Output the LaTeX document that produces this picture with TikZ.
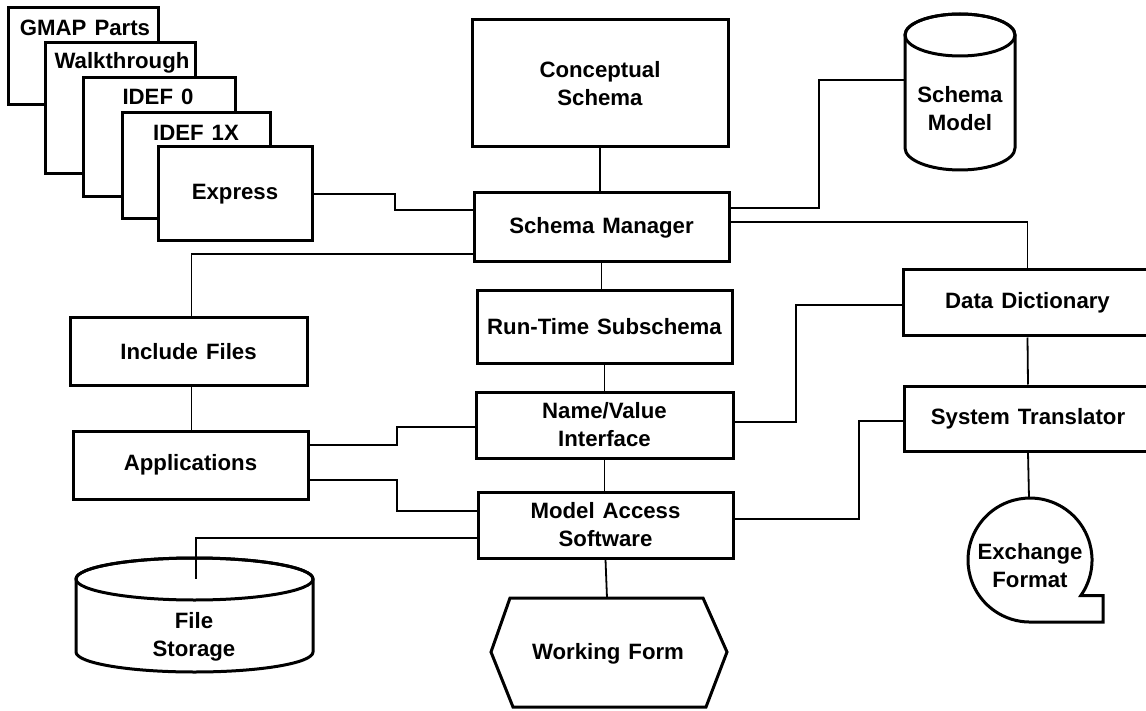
\documentclass[tikz,border=0pt]{standalone}
\usepackage{fontspec}
\setmainfont{Liberation Sans}
\newcommand{\dgfont}{\fontsize{22.2}{28}\selectfont\bfseries\spaceskip=8pt plus 2pt minus 1pt\relax}
\begin{document}
\begin{tikzpicture}[x=1pt,y=-1pt,
  box/.style={draw, line width=3pt, fill=white, rectangle, inner sep=0pt, align=center, font=\dgfont},
  shapeline/.style={draw, line width=3pt, fill=white},
  conn/.style={line width=1.8pt},
  lbl/.style={align=center, font=\dgfont, inner sep=0pt}]
\useasboundingbox[fill=white] (0,0) rectangle (1146,711);

% stacked cards
\node[box, minimum width=150, minimum height=97] (gmap) at (83,56.5) {};
\node[lbl] (gmapt) at (85,28) {GMAP Parts};
\node[box, minimum width=150, minimum height=131] (walk) at (120,108.5) {};
\node[lbl] (walkt) at (122,63) {Walkthrough};
\node[box, minimum width=152, minimum height=119] (idef0) at (159,137.5) {};
\node[lbl] (idef0t) at (158,97) {IDEF 0};
\node[box, minimum width=148, minimum height=106] (idef1x) at (196,166) {};
\node[lbl] (idef1xt) at (196,133) {IDEF 1X};
\node[box, minimum width=154, minimum height=94] (express) at (235,194) {Express};

% centre column
\node[box, minimum width=256, minimum height=127] (concept) at (600,83.5) {Conceptual\\Schema};
\node[box, minimum width=255, minimum height=69] (sm) at (601.5,227.5) {Schema Manager};
\node[box, minimum width=255, minimum height=72] (rts) at (604.5,327) {Run-Time Subschema};
\node[box, minimum width=257, minimum height=66] (nv) at (604.5,425) {Name/Value\\Interface};
\node[box, minimum width=255, minimum height=66] (mas) at (605.5,525) {Model Access\\Software};

% left column
\node[box, minimum width=237, minimum height=67] (incl) at (188.5,351.5) {Include Files};
\node[box, minimum width=235, minimum height=68] (app) at (190.5,465) {Applications};

% right column (boxes run past the right edge)
\node[box, minimum width=249, minimum height=66] (dd) at (1027.5,303) {Data Dictionary};
\node[box, minimum width=248, minimum height=65] (st) at (1028,418.5) {System Translator};

% Schema Model cylinder
\draw[shapeline] (905,35) -- (905,148) arc[start angle=180, end angle=0, x radius=55, y radius=22]
  -- (1015,35) arc[start angle=0, end angle=-180, x radius=55, y radius=21] -- cycle;
\draw[line width=3pt] (960,35) ellipse[x radius=55, y radius=21];
\node[lbl] (smodel) at (960,109) {Schema\\Model};
\coordinate (smodelL) at (905,80);

% File Storage cylinder
\draw[shapeline] (76,579) -- (76,652) arc[start angle=180, end angle=0, x radius=118.5, y radius=20]
  -- (313,579) arc[start angle=0, end angle=-180, x radius=118.5, y radius=21] -- cycle;
\draw[line width=3pt] (194.5,579) ellipse[x radius=118.5, y radius=21];
\node[lbl] (fs) at (194,637) {File\\Storage};
\coordinate (fsTop) at (196,579);

% Working Form hexagon
\draw[shapeline] (510,598) -- (703,598) -- (727,652) -- (706,707) -- (513,707) -- (491,652) -- cycle;
\node[lbl] (wf) at (608,654) {Working Form};
\coordinate (wfTop) at (607,598);

% Exchange Format
\draw[shapeline] (1080.8,595.6) arc[start angle=35, end angle=-270, radius=62]
  -- (1103,622) -- (1103,595.6) -- cycle;
\node[lbl] (exf) at (1030,566) {Exchange\\Format};
\coordinate (exfTop) at (1029,498);

% connectors
\draw[conn] (express.east) -- (395,194) |- (sm.west |- 0,210);
\draw[conn] (concept.south) -- (concept.south |- sm.north);
\draw[conn] (sm.east |- 0,208) -| (819,80) -- (smodelL);
\draw[conn] (sm.east |- 0,222) -| (dd.north);
\draw[conn] (sm.south) -- (sm.south |- rts.north);
\draw[conn] (rts.south) -- (rts.south |- nv.north);
\draw[conn] (nv.south) -- (nv.south |- mas.north);
\draw[conn] (mas.south) -- (wfTop);
\draw[conn] (sm.west |- 0,254) -| ([xshift=3]incl.north);
\draw[conn] ([xshift=3]incl.south) -- ([xshift=3]incl.south |- app.north);
\draw[conn] (app.east |- 0,445) -- (397,445) |- (nv.west |- 0,427);
\draw[conn] (app.east |- 0,480) -- (397,480) |- (mas.west |- 0,511);
\draw[conn] (mas.west |- 0,538) -| (fsTop);
\draw[conn] (dd.west |- 0,305) -| (796,422) -- (nv.east |- 0,422);
\draw[conn] (st.west |- 0,421) -| (859,519) -- (mas.east |- 0,519);
\draw[conn] (dd.south) -- (st.north);
\draw[conn] (st.south) -- (exfTop);
\end{tikzpicture}
\end{document}
